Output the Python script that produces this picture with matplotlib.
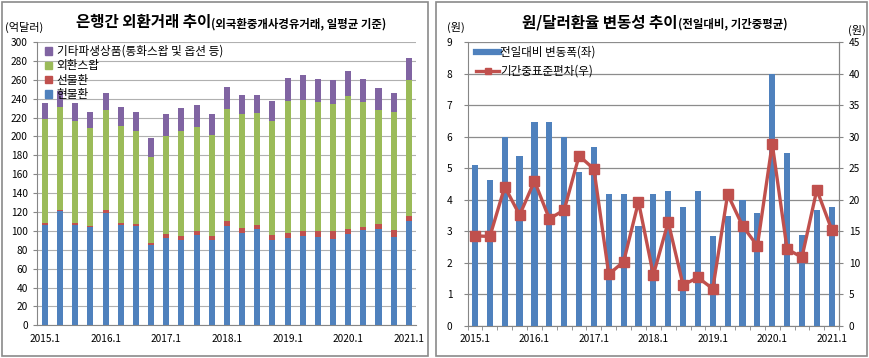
import matplotlib
matplotlib.use('Agg')
import matplotlib.pyplot as plt
import numpy as np
from matplotlib.patches import Rectangle, Patch
from matplotlib.lines import Line2D

plt.rcParams['font.family'] = ['Noto Sans CJK KR', 'DejaVu Sans']

# ---------------- data ----------------
quarters = ['2015.1', '2015.2', '2015.3', '2015.4', '2016.1', '2016.2', '2016.3', '2016.4',
            '2017.1', '2017.2', '2017.3', '2017.4', '2018.1', '2018.2', '2018.3', '2018.4',
            '2019.1', '2019.2', '2019.3', '2019.4', '2020.1', '2020.2', '2020.3', '2020.4',
            '2021.1']
shown_labels = ['2015.1', '2016.1', '2017.1', '2018.1', '2019.1', '2020.1', '2021.1']

# left chart (억달러)
spot = [106.5, 121, 106.5, 104.5, 119, 106, 105, 85.5, 92.5, 90, 96, 90, 105, 98, 102, 90.5,
        92.5, 94.5, 94, 91.5, 96.5, 100.5, 101.5, 93.5, 110]
forward = [1.5, 1, 1.5, 1, 3, 2, 2, 2, 4.5, 4.5, 4, 4.5, 5.5, 5, 4, 5, 5, 5, 6, 8, 6, 4, 6, 7.5, 6]
swap = [110, 109.5, 108, 103, 105.5, 103.5, 98.5, 91, 103.5, 111, 110.5, 107.5, 119, 120.5,
        118.5, 120.5, 140.5, 139.5, 136, 135, 140.5, 131.5, 120, 124.5, 143.5]
other = [17, 17, 19, 17, 19, 20, 20, 19.5, 23, 25, 23, 21.5, 23, 20.5, 19.5, 22, 24, 26, 25, 25,
         26.5, 25, 24, 21, 23.5]
left_series_names = ['현물환', '선물환', '외환스왑', '기타파생상품(통화스왑 및 옵션 등)']

# right chart (원)
daily_change = [5.1, 4.63, 6.0, 5.4, 6.48, 6.48, 6.0, 4.88, 5.68, 4.2, 4.2, 3.18, 4.2, 4.28,
                3.78, 4.28, 2.86, 3.5, 4.0, 3.6, 8.0, 5.5, 2.9, 3.68, 3.78]
period_std = [14.3, 14.2, 22.1, 17.6, 23.0, 17.0, 18.4, 27.0, 24.9, 8.2, 10.2, 19.7, 8.1, 16.5,
              6.5, 7.7, 5.9, 20.9, 15.9, 12.7, 28.9, 12.2, 10.9, 21.6, 15.3]
right_series_names = ['전일대비 변동폭(좌)', '기간중표준편차(우)']

# ---------------- style ----------------
BLUE = '#4F81BD'
RED = '#C0504D'
GREEN = '#9BBB59'
PURPLE = '#8064A2'
W, H = 869, 358

fig = plt.figure(figsize=(W / 100, H / 100), dpi=100)
fig.patch.set_facecolor('white')

def fx(px):
    return px / W

def fy(py):
    return 1 - py / H

# panel borders
for (x0, y0, x1, y1) in [(2, 2, 428, 356), (436, 2, 867, 356)]:
    fig.patches.append(Rectangle((fx(x0), fy(y1)), fx(x1) - fx(x0), fy(y0) - fy(y1),
                                 transform=fig.transFigure, fill=False,
                                 edgecolor='#8A8A8A', lw=1.2))

x = np.arange(len(quarters))
tick_pos = [quarters.index(q) for q in shown_labels]

# ---------------- left chart ----------------
axL = fig.add_axes([fx(37.4), fy(325.3), fx(379), (325.3 - 42) / H])
bw = 0.4
axL.bar(x, spot, bw, color=BLUE, zorder=3)
bot = np.array(spot, dtype=float)
axL.bar(x, forward, bw, bottom=bot, color=RED, zorder=3)
bot = bot + np.array(forward)
axL.bar(x, swap, bw, bottom=bot, color=GREEN, zorder=3)
bot = bot + np.array(swap)
axL.bar(x, other, bw, bottom=bot, color=PURPLE, zorder=3)

axL.set_xlim(-0.5, len(quarters) - 0.5)
axL.set_ylim(0, 300)
axL.set_yticks(np.arange(0, 301, 20))
axL.yaxis.grid(True, color='#B0B0B0', lw=0.8, zorder=0)
axL.set_xticks(tick_pos)
axL.set_xticklabels(shown_labels)
axL.tick_params(axis='x', length=0, labelsize=7.3, pad=6)
axL.tick_params(axis='y', length=3, labelsize=7.3, pad=4, color='#868686')
for s in ['top', 'right']:
    axL.spines[s].set_visible(False)
for s in ['left', 'bottom']:
    axL.spines[s].set_color('#868686')

handles = [Patch(color=PURPLE), Patch(color=GREEN), Patch(color=RED), Patch(color=BLUE)]
labels = [left_series_names[3], left_series_names[2], left_series_names[1], left_series_names[0]]
fig.legend(handles, labels, loc='upper left', bbox_to_anchor=(fx(45), fy(45)),
           frameon=False, fontsize=8.4, handlelength=0.6, handleheight=0.6,
           handletextpad=0.4, labelspacing=0.12, borderpad=0, borderaxespad=0)

fig.text(fx(5), fy(27), '(억달러)', fontsize=8, ha='left', va='center')

# ---------------- right chart ----------------
axR = fig.add_axes([fx(467.6), fy(326), fx(371.5), (326 - 42.3) / H])
axR.bar(x, daily_change, 0.42, color=BLUE, zorder=3)
axR.set_xlim(-0.5, len(quarters) - 0.5)
axR.set_ylim(0, 9)
axR.set_yticks(np.arange(0, 10, 1))
axR.yaxis.grid(True, color='#8C8C8C', lw=0.9, zorder=0)
axR.set_xticks(tick_pos)
axR.set_xticklabels(shown_labels)
axR.set_xticks(np.arange(-0.5, len(quarters), 1), minor=True)
axR.tick_params(axis='x', which='major', length=0, labelsize=7.3, pad=6)
axR.tick_params(axis='x', which='minor', length=3, color='#868686')
axR.tick_params(axis='y', length=3, labelsize=7.3, pad=8, color='#868686')
axR.spines['top'].set_visible(False)
for s in ['left', 'bottom', 'right']:
    axR.spines[s].set_color('#868686')

axR2 = axR.twinx()
axR2.plot(x, period_std, color=RED, lw=2.4, marker='s', markersize=6.5,
          markerfacecolor=RED, markeredgecolor=RED, zorder=4)
axR2.set_ylim(0, 45)
axR2.set_yticks(np.arange(0, 46, 5))
axR2.tick_params(axis='y', length=3, labelsize=7.3, pad=4, color='#868686')
for s in ['top', 'left', 'bottom']:
    axR2.spines[s].set_visible(False)
axR2.spines['right'].set_color('#868686')

hR = [Line2D([], [], color=BLUE, lw=4.5),
      Line2D([], [], color=RED, lw=2.4, marker='s', markersize=4.5)]
fig.legend(hR, right_series_names, loc='upper left', bbox_to_anchor=(fx(476), fy(46)),
           frameon=False, fontsize=8.3, handlelength=2.0, handletextpad=0.1,
           labelspacing=0.5, borderpad=0, borderaxespad=0)

fig.text(fx(447), fy(27), '(원)', fontsize=8, ha='left', va='center')
fig.text(fx(848), fy(30), '(원)', fontsize=8, ha='left', va='center')

# ---------------- titles ----------------
tL = fig.text(fx(76), fy(27), '은행간 외환거래 추이', fontsize=11.2, fontweight='bold',
              ha='left', va='baseline')
tR = fig.text(fx(522), fy(27), '원/달러환율 변동성 추이', fontsize=11.2, fontweight='bold',
              ha='left', va='baseline')
fig.canvas.draw()
r = fig.canvas.get_renderer()
for t, sub in [(tL, '(외국환중개사경유거래, 일평균 기준)'), (tR, '(전일대비, 기간중평균)')]:
    bb = t.get_window_extent(renderer=r)
    fig.text(bb.x1 / fig.bbox.width, fy(27), sub, fontsize=8.2, fontweight='bold',
             ha='left', va='baseline')

fig.savefig('out.png', dpi=100)
